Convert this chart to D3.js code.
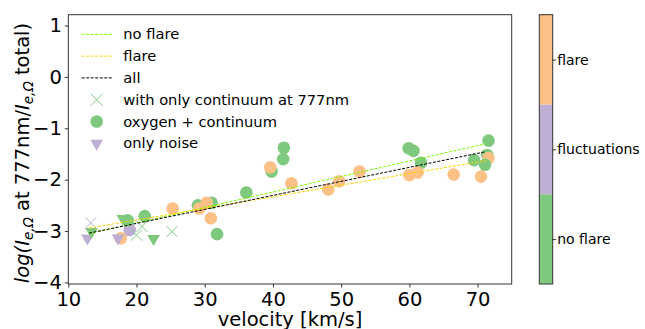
<!DOCTYPE html>
<html>
<head>
<meta charset="utf-8">
<script src="https://cdn.jsdelivr.net/npm/d3@7"></script>
<style>
  body { margin: 0; background: #fff; }
  svg { font-family: "DejaVu Sans", sans-serif; }
</style>
</head>
<body>
<div id="chart"></div>
<script>
// points, in drawing order
const velocity = [13.3, 17.7, 19.0, 18.7, 21.2, 20.8, 20.0, 25.2, 25.3, 29.0, 29.2, 31.0, 30.3, 30.9, 31.8, 36.1,
  39.8, 39.6, 41.6, 41.5, 42.7, 48.1, 49.7, 52.7, 59.9, 60.6, 60.0, 61.7, 61.2, 66.5, 70.5, 69.5, 71.6, 71.4, 71.6, 71.1,
  12.8, 13.4, 17.3, 18.0, 22.5];
const logRatio = [-2.84, -3.14, -2.98, -2.79, -2.71, -2.91, -3.08, -3.01, -2.56, -2.50, -2.56, -2.45, -2.45, -2.75, -3.06, -2.25,
  -1.84, -1.76, -1.38, -1.60, -2.07, -2.19, -2.03, -1.84, -1.39, -1.44, -1.91, -1.67, -1.86, -1.90, -1.94, -1.62, -1.24, -1.52, -1.58, -1.71,
  -3.14, -3.01, -3.14, -2.76, -3.15];
const activity = ["fluctuations", "flare", "fluctuations", "no flare", "no flare", "no flare", "no flare", "no flare", "flare", "no flare", "flare", "no flare", "flare", "flare", "no flare", "no flare",
  "no flare", "flare", "no flare", "no flare", "flare", "flare", "flare", "flare", "no flare", "no flare", "flare", "no flare", "flare", "flare", "flare", "no flare", "no flare", "no flare", "flare", "no flare",
  "fluctuations", "no flare", "fluctuations", "no flare", "no flare"];
const detection = ["continuum", "oxygen", "oxygen", "oxygen", "oxygen", "continuum", "continuum", "continuum", "oxygen", "oxygen", "oxygen", "oxygen", "oxygen", "oxygen", "oxygen", "oxygen",
  "oxygen", "oxygen", "oxygen", "oxygen", "oxygen", "oxygen", "oxygen", "oxygen", "oxygen", "oxygen", "oxygen", "oxygen", "oxygen", "oxygen", "oxygen", "oxygen", "oxygen", "oxygen", "oxygen", "oxygen",
  "noise", "noise", "noise", "noise", "noise"];

// linear fits (velocity range, slope, intercept)
const fitNames = ["no flare", "flare", "all"];
const fitColors = ["#7cfc00", "#ffd700", "#000000"];
const fitRange = [13.05, 71.2];
const fitSlope = [0.0301, 0.02253, 0.02726];
const fitIntercept = [-3.443, -3.234, -3.396];

const activityLevels = ["no flare", "fluctuations", "flare"];
const activityColors = ["#7fc97f", "#beaed4", "#fdc086"];
const markerLabels = ["with only continuum at 777nm", "oxygen + continuum", "only noise"];

const xTicks = [10, 20, 30, 40, 50, 60, 70];
const yTicks = [1, 0, -1, -2, -3, -4];

const W = 645, H = 329;
const plot = { left: 68.3, right: 511.7, top: 14.7, bottom: 284 };

const svg = d3.select("#chart").append("svg").attr("width", W).attr("height", H);

const x = d3.scaleLinear().domain([10, 75]).range([plot.left, plot.right]);
const y = d3.scaleLinear().domain([-4.03, 1.21]).range([plot.bottom, plot.top]);
const color = d3.scaleOrdinal().domain(activityLevels).range(activityColors);
const fmt = d => d3.format("d")(d).replace("-", "\u2212");

// axes
const xAxis = svg.append("g").attr("transform", `translate(0,${plot.bottom})`)
  .call(d3.axisBottom(x).tickValues(xTicks).tickFormat(fmt).tickSize(3.5).tickPadding(4));
const yAxis = svg.append("g").attr("transform", `translate(${plot.left},0)`)
  .call(d3.axisLeft(y).tickValues(yTicks).tickFormat(fmt).tickSize(3.5).tickPadding(3));
[xAxis, yAxis].forEach(a => {
  a.select(".domain").remove();
  a.selectAll("text").attr("font-size", 19.5).attr("fill", "#000").attr("font-family", "DejaVu Sans");
  a.selectAll("line").attr("stroke", "#000").attr("stroke-width", 0.8);
});
xAxis.selectAll("text").attr("dy", "0.75em");

svg.append("rect").attr("x", plot.left).attr("y", plot.top)
  .attr("width", plot.right - plot.left).attr("height", plot.bottom - plot.top)
  .attr("fill", "none").attr("stroke", "#333").attr("stroke-width", 1);

// points
const pts = velocity.map((v, i) => ({ v, r: logRatio[i], a: activity[i], d: detection[i] }));
const g = svg.append("g");
const tri = d3.symbol().type(d3.symbolTriangle).size(70);
pts.forEach(p => {
  const cx = x(p.v), cy = y(p.r);
  if (p.d === "oxygen") {
    g.append("circle").attr("cx", cx).attr("cy", cy).attr("r", 6.3).attr("fill", color(p.a));
  } else if (p.d === "noise") {
    g.append("path").attr("d", tri).attr("transform", `translate(${cx},${cy}) rotate(180)`).attr("fill", color(p.a));
  } else {
    const s = 5.5;
    g.append("path").attr("d", `M${cx - s},${cy - s}L${cx + s},${cy + s}M${cx - s},${cy + s}L${cx + s},${cy - s}`)
      .attr("stroke", color(p.a)).attr("stroke-width", 1).attr("fill", "none");
  }
});

// fit lines
fitNames.forEach((n, i) => {
  const line = fitRange.map(v => [x(v), y(fitSlope[i] * v + fitIntercept[i])]);
  svg.append("path").attr("d", d3.line()(line)).attr("stroke", fitColors[i])
    .attr("stroke-width", 1).attr("stroke-dasharray", "3,1.5").attr("fill", "none");
});

// legend
const leg = svg.append("g").attr("font-size", 14.7).attr("fill", "#000");
const rowY = i => 34.3 + i * 21.8;
fitNames.forEach((n, i) => {
  leg.append("line").attr("x1", 81.7).attr("x2", 111.7).attr("y1", rowY(i)).attr("y2", rowY(i))
    .attr("stroke", fitColors[i]).attr("stroke-width", 1).attr("stroke-dasharray", "3,1.5");
  leg.append("text").attr("x", 123.3).attr("y", rowY(i)).attr("dy", "0.35em").text(n);
});
markerLabels.forEach((n, j) => {
  const i = j + 3, cx = 96.7, cy = rowY(i);
  if (j === 0) {
    const s = 6;
    leg.append("path").attr("d", `M${cx - s},${cy - s}L${cx + s},${cy + s}M${cx - s},${cy + s}L${cx + s},${cy - s}`)
      .attr("stroke", activityColors[0]).attr("stroke-width", 1);
  } else if (j === 1) {
    leg.append("circle").attr("cx", cx).attr("cy", cy).attr("r", 6.3).attr("fill", activityColors[0]);
  } else {
    leg.append("path").attr("d", tri).attr("transform", `translate(${cx},${cy}) rotate(180)`).attr("fill", activityColors[1]);
  }
  leg.append("text").attr("x", 123.3).attr("y", cy).attr("dy", "0.35em").text(n);
});

// y label
const yl = svg.append("text").attr("transform", "translate(29,153) rotate(-90)")
  .attr("text-anchor", "middle").attr("font-size", 19.5).attr("fill", "#000");
yl.append("tspan").attr("font-style", "italic").text("log(I");
yl.append("tspan").attr("font-style", "italic").attr("font-size", 13.5).attr("dy", 4).text("e,\u03A9");
yl.append("tspan").attr("dy", -4).text(" at 777nm/");
yl.append("tspan").attr("font-style", "italic").text("I");
yl.append("tspan").attr("font-style", "italic").attr("font-size", 13.5).attr("dy", 4).text("e,\u03A9");
yl.append("tspan").attr("dy", -4).text(" total)");

// x label
svg.append("text").attr("x", (plot.left + plot.right) / 2).attr("y", 326)
  .attr("text-anchor", "middle").attr("font-size", 19.5).attr("fill", "#000").text("velocity [km/s]");

// colorbar
const cb = { left: 539.3, right: 552.7 };
const cy = d3.scaleBand().domain(activityLevels.slice().reverse()).range([plot.top, plot.bottom]);
activityLevels.forEach((lvl, i) => {
  svg.append("rect").attr("x", cb.left).attr("y", cy(lvl)).attr("width", cb.right - cb.left)
    .attr("height", cy.bandwidth()).attr("fill", activityColors[i]);
});
svg.append("rect").attr("x", cb.left).attr("y", plot.top).attr("width", cb.right - cb.left)
  .attr("height", plot.bottom - plot.top).attr("fill", "none").attr("stroke", "#333").attr("stroke-width", 1);
const cbAxis = svg.append("g").attr("transform", `translate(${cb.right},0)`)
  .call(d3.axisRight(d3.scalePoint().domain(cy.domain()).range([plot.top + cy.bandwidth() / 2, plot.bottom - cy.bandwidth() / 2]))
    .tickSize(3.5).tickPadding(1));
cbAxis.select(".domain").remove();
cbAxis.selectAll("text").attr("font-size", 14).attr("fill", "#000").attr("font-family", "DejaVu Sans");
cbAxis.selectAll("line").attr("stroke", "#000").attr("stroke-width", 0.8);
</script>
</body>
</html>
